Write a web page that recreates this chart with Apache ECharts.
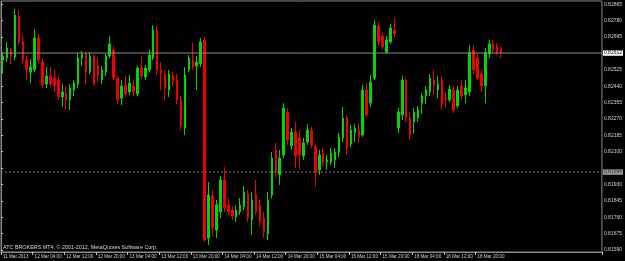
<!DOCTYPE html>
<html><head><meta charset="utf-8">
<script src="https://cdn.jsdelivr.net/npm/echarts@6/dist/echarts.min.js"></script>
<style>html,body{margin:0;padding:0;background:#000;}#c{width:625px;height:261px;}</style>
</head><body><div id="c"></div>
<script>
// H1 bars, first bar 11 Mar 2013 20:00
const opens = [0.82576,0.82586,0.82628,0.82591,0.82804,0.82669,0.82576,0.82513,0.82524,0.82690,
0.82565,0.82451,0.82493,0.82482,0.82472,0.82384,0.82404,0.82368,0.82420,0.82451,
0.82586,0.82607,0.82513,0.82596,0.82544,0.82472,0.82513,0.82596,0.82628,0.82482,
0.82378,0.82446,0.82410,0.82441,0.82399,0.82534,0.82487,0.82524,0.82586,0.82731,
0.82524,0.82503,0.82420,0.82493,0.82472,0.82368,0.82223,0.82524,0.82576,0.82544,
0.82555,0.82679,0.81652,0.81870,0.81693,0.81787,0.81953,0.81823,0.81797,0.81761,
0.81787,0.81813,0.81880,0.81745,0.81875,0.81823,0.81756,0.81673,0.81875,0.82109,
0.81979,0.82083,0.82306,0.82129,0.82202,0.82171,0.82077,0.82150,0.82212,0.82124,
0.82005,0.82093,0.82047,0.82047,0.82057,0.82098,0.82171,0.82275,0.82140,0.82197,
0.82212,0.82186,0.82420,0.82352,0.82482,0.82752,0.82700,0.82617,0.82669,0.82731,
0.82223,0.82290,0.82472,0.82275,0.82254,0.82275,0.82352,0.82389,0.82410,0.82472,
0.82420,0.82472,0.82378,0.82368,0.82420,0.82337,0.82441,0.82394,0.82410,0.82628,
0.82586,0.82503,0.82441,0.82607,0.82659,0.82648,0.82633];
const closes = [0.82596,0.82638,0.82596,0.82809,0.82669,0.82576,0.82524,0.82539,0.82690,0.82576,
0.82446,0.82493,0.82451,0.82441,0.82384,0.82410,0.82368,0.82430,0.82456,0.82586,
0.82607,0.82513,0.82596,0.82451,0.82493,0.82524,0.82596,0.82659,0.82482,0.82368,
0.82441,0.82399,0.82456,0.82410,0.82534,0.82493,0.82534,0.82602,0.82731,0.82524,
0.82503,0.82430,0.82503,0.82461,0.82368,0.82238,0.82498,0.82586,0.82539,0.82565,
0.82669,0.81641,0.81875,0.81704,0.81823,0.81953,0.81808,0.81787,0.81766,0.81797,
0.81823,0.81891,0.81756,0.81849,0.81787,0.81735,0.81683,0.81849,0.82067,0.81994,
0.82067,0.82326,0.82160,0.82202,0.82077,0.82083,0.82145,0.82212,0.82134,0.81994,
0.82083,0.82047,0.82057,0.82093,0.82098,0.82176,0.82275,0.82119,0.82212,0.82223,
0.82176,0.82420,0.82290,0.82461,0.82757,0.82669,0.82643,0.82679,0.82742,0.82711,
0.82306,0.82472,0.82275,0.82186,0.82306,0.82316,0.82389,0.82420,0.82482,0.82441,
0.82451,0.82347,0.82368,0.82425,0.82316,0.82420,0.82389,0.82430,0.82617,0.82524,
0.82482,0.82441,0.82617,0.82659,0.82628,0.82617,0.82612];
const lows = [0.82503,0.82565,0.82555,0.82576,0.82653,0.82560,0.82472,0.82456,0.82513,0.82560,
0.82430,0.82430,0.82435,0.82410,0.82368,0.82332,0.82316,0.82316,0.82389,0.82430,
0.82544,0.82451,0.82503,0.82441,0.82461,0.82451,0.82493,0.82586,0.82472,0.82347,
0.82342,0.82384,0.82394,0.82389,0.82389,0.82477,0.82472,0.82513,0.82576,0.82498,
0.82420,0.82368,0.82384,0.82441,0.82347,0.82212,0.82186,0.82513,0.82524,0.82420,
0.82539,0.81631,0.81615,0.81662,0.81652,0.81756,0.81787,0.81771,0.81745,0.81735,
0.81771,0.81797,0.81735,0.81667,0.81771,0.81714,0.81652,0.81641,0.81859,0.81963,
0.81927,0.82067,0.82134,0.82109,0.82015,0.82005,0.82057,0.82134,0.82119,0.81917,
0.81979,0.82026,0.82005,0.82031,0.82015,0.82072,0.82150,0.82083,0.82124,0.82150,
0.82145,0.82176,0.82275,0.82332,0.82472,0.82653,0.82628,0.82607,0.82659,0.82690,
0.82197,0.82264,0.82254,0.82160,0.82191,0.82254,0.82295,0.82347,0.82389,0.82394,
0.82378,0.82316,0.82326,0.82358,0.82301,0.82326,0.82368,0.82352,0.82389,0.82503,
0.82472,0.82410,0.82352,0.82586,0.82612,0.82602,0.82586];
const highs = [0.82617,0.82669,0.82638,0.82840,0.82835,0.82711,0.82596,0.82581,0.82736,0.82711,
0.82586,0.82539,0.82539,0.82524,0.82493,0.82451,0.82441,0.82451,0.82472,0.82612,
0.82622,0.82617,0.82617,0.82602,0.82586,0.82544,0.82607,0.82700,0.82648,0.82493,
0.82472,0.82493,0.82498,0.82472,0.82544,0.82596,0.82550,0.82628,0.82757,0.82752,
0.82565,0.82524,0.82524,0.82513,0.82503,0.82389,0.82539,0.82602,0.82664,0.82596,
0.82690,0.82695,0.81942,0.81901,0.81849,0.81974,0.82020,0.81859,0.81818,0.81823,
0.81859,0.81922,0.81901,0.81891,0.81953,0.81849,0.81787,0.81891,0.82098,0.82145,
0.82109,0.82352,0.82326,0.82223,0.82254,0.82212,0.82171,0.82243,0.82228,0.82134,
0.82109,0.82119,0.82083,0.82119,0.82119,0.82197,0.82332,0.82290,0.82238,0.82243,
0.82249,0.82446,0.82456,0.82498,0.82783,0.82773,0.82716,0.82700,0.82762,0.82794,
0.82326,0.82493,0.82487,0.82306,0.82326,0.82337,0.82404,0.82441,0.82503,0.82524,
0.82493,0.82493,0.82410,0.82446,0.82441,0.82441,0.82472,0.82472,0.82653,0.82653,
0.82607,0.82524,0.82638,0.82679,0.82679,0.82664,0.82643];
const xTickLabels = ['11 Mar 2013','12 Mar 04:00','12 Mar 12:00','12 Mar 20:00','13 Mar 04:00','13 Mar 12:00','13 Mar 20:00','14 Mar 04:00','14 Mar 12:00','14 Mar 20:00','15 Mar 04:00','15 Mar 12:00','15 Mar 20:00','18 Mar 04:00','18 Mar 12:00','18 Mar 20:00'];
const yTicks = [0.81590,0.81675,0.81760,0.81845,0.81930,0.82015,0.82100,0.82185,0.82270,0.82355,0.82440,0.82525,0.82610,0.82695,0.82780,0.82865];
const yTickLabels = [0.81590,0.81675,0.81760,0.81845,0.81930,0.82100,0.82185,0.82270,0.82355,0.82440,0.82525,0.82695,0.82780,0.82865];
const bidPrice = 0.82612;
const levelPrice = 0.81994;

const SLOTS = 152; // visible bar slots incl. right shift
const cats = [];
for (let i = 0; i < SLOTS; i++) cats.push(i);
const kdata = opens.map((o, i) => [o, closes[i], lows[i], highs[i]]);
const showIdx = (i) => i % 8 === 0 && (i / 8) < xTickLabels.length;

// horizontal price level spanning the full plot width, drawn on a hidden 0..1 value x-axis
function levelSeries(name, price, lineStyle, boxBg, boxColor) {
  return {
    name: name, type: 'line', xAxisIndex: 1, yAxisIndex: 0, z: 5, silent: true,
    symbol: 'none', showSymbol: false, clip: false,
    data: [[0, price], [1, price]],
    lineStyle: lineStyle,
    endLabel: {show: true, distance: 1, formatter: () => price.toFixed(5), color: boxColor, backgroundColor: boxBg,
      padding: [0.5, 1, 0, 1], fontFamily: 'Liberation Sans', fontSize: 5}
  };
}

const chart = echarts.init(document.getElementById('c'), null, {renderer: 'canvas'});
chart.setOption({
  animation: false,
  backgroundColor: '#000000',
  grid: {left: 1, top: 1, right: 21, bottom: 9, show: true, borderColor: '#8a8a8a', borderWidth: 1, backgroundColor: '#000000'},
  xAxis: [{
    type: 'category', data: cats, boundaryGap: true,
    axisLine: {show: true, lineStyle: {color: '#8a8a8a', width: 1}},
    axisTick: {show: true, length: 3, interval: (i) => showIdx(i), lineStyle: {color: '#c0c0c0'}},
    axisLabel: {
      interval: (i) => showIdx(i), align: 'left', margin: 2,
      color: '#d0d0d0', fontFamily: 'Liberation Sans', fontSize: 4.6,
      formatter: (v) => { const i = Number(v); return showIdx(i) ? xTickLabels[i / 8] : ''; }
    },
    splitLine: {show: false}
  }, {
    type: 'value', min: 0, max: 1, show: false, position: 'top'
  }],
  yAxis: {
    type: 'value', position: 'right', scale: true,
    min: 0.81579, max: 0.82882,
    axisLine: {show: true, lineStyle: {color: '#8a8a8a', width: 1}},
    axisTick: {show: true, length: 2, customValues: yTicks, lineStyle: {color: '#c0c0c0'}},
    axisLabel: {customValues: yTickLabels, margin: 2, color: '#d0d0d0', fontFamily: 'Liberation Sans', fontSize: 5,
      formatter: (v) => Number(v).toFixed(5)},
    splitLine: {show: false}
  },
  series: [
    {
      name: 'EURGBP', type: 'candlestick', data: kdata, barWidth: 2, z: 3,
      itemStyle: {color: '#00d800', color0: '#f00000', borderColor: '#00d800', borderColor0: '#f00000', borderWidth: 1}
    },
    levelSeries('bid', bidPrice, {color: '#8a8a8a', type: 'solid', width: 1}, '#ffffff', '#000000'),
    levelSeries('level', levelPrice, {color: '#7a7a7a', type: [2, 2], width: 1}, '#9a9a9a', '#303030')
  ],
  graphic: [{type: 'text', left: 3, top: 245.5, silent: true,
    style: {text: 'ATC BROKERS MT4, © 2001-2012, MetaQuotes Software Corp.', fill: '#d8d8d8', font: '5.4px "Liberation Sans"'}}]
});
</script></body></html>
